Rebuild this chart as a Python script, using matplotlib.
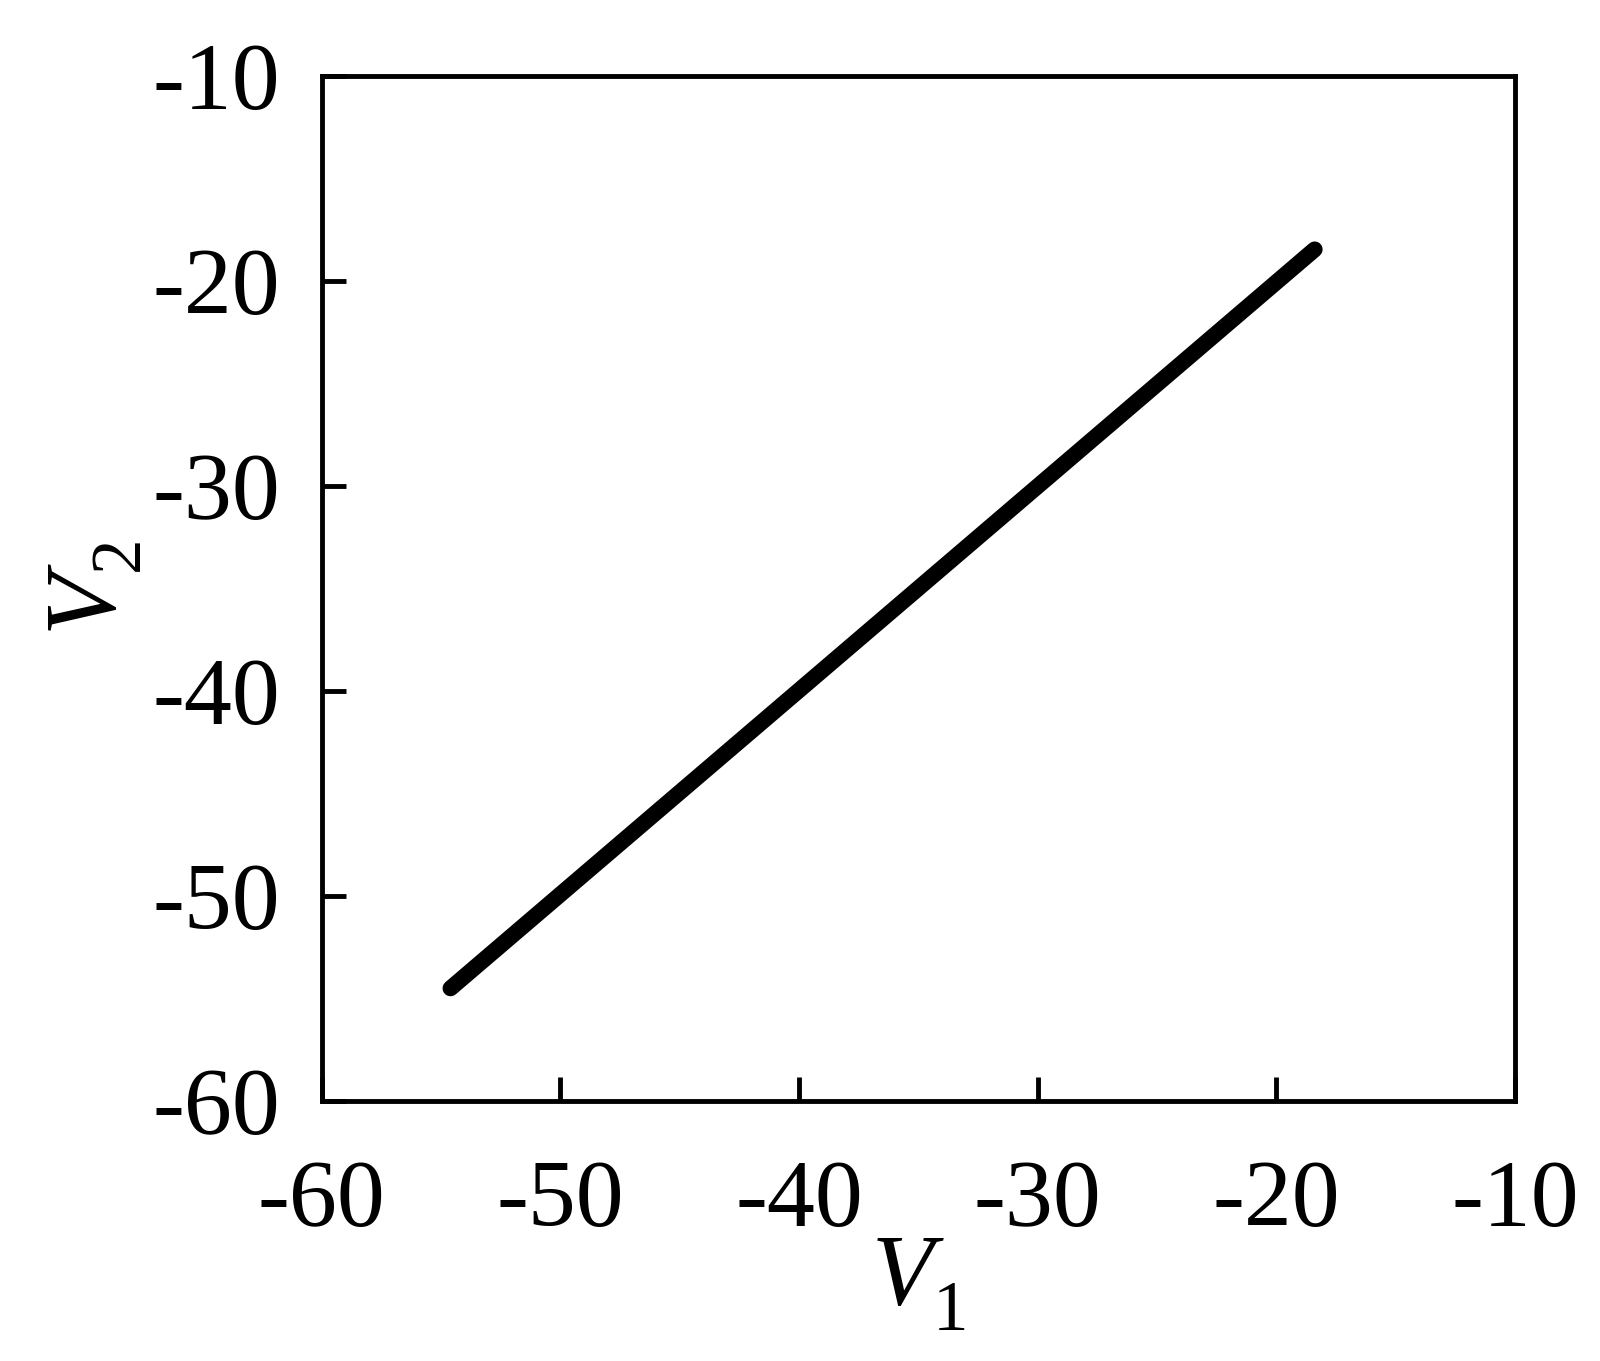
import matplotlib
matplotlib.use("Agg")
import matplotlib.pyplot as plt

plt.rcParams['font.family'] = ['Liberation Serif', 'DejaVu Serif']
plt.rcParams['mathtext.fontset'] = 'custom'
plt.rcParams['mathtext.rm'] = 'Liberation Serif'
plt.rcParams['mathtext.it'] = 'Liberation Serif:italic'

# lower subscripts a bit, as in the reference typesetting
try:
    import matplotlib._mathtext as _mt
    _mt.FontConstantsBase.sub1 = 0.55
except Exception:
    pass

# Data: the synchronization line V2 vs V1
v1 = [-54.6, -18.4]
v2 = [-54.5, -18.45]
ticks = [-60, -50, -40, -30, -20, -10]
tick_labels = ['-60', '-50', '-40', '-30', '-20', '-10']

fig = plt.figure(figsize=(16, 13.61), dpi=100)
ax = fig.add_axes([0.201, 0.191, 0.746, 0.753])
ax.plot(v1, v2, color='black', linewidth=11.5, solid_capstyle='round')
ax.set_xlim(-60, -10)
ax.set_ylim(-60, -10)
ax.set_xticks(ticks)
ax.set_xticklabels(tick_labels)
ax.set_yticks(ticks)
ax.set_yticklabels(tick_labels)
ax.tick_params(direction='in', length=17, width=3.5, labelsize=69)
ax.tick_params(axis='x', pad=42)
ax.tick_params(axis='y', pad=30)
for s in ax.spines.values():
    s.set_linewidth(3.5)
ax.set_xlabel('$V_1$', fontsize=73, labelpad=-7)
ax.set_ylabel('$V_2$', fontsize=73, labelpad=6)
fig.savefig('out.png', dpi=100)
